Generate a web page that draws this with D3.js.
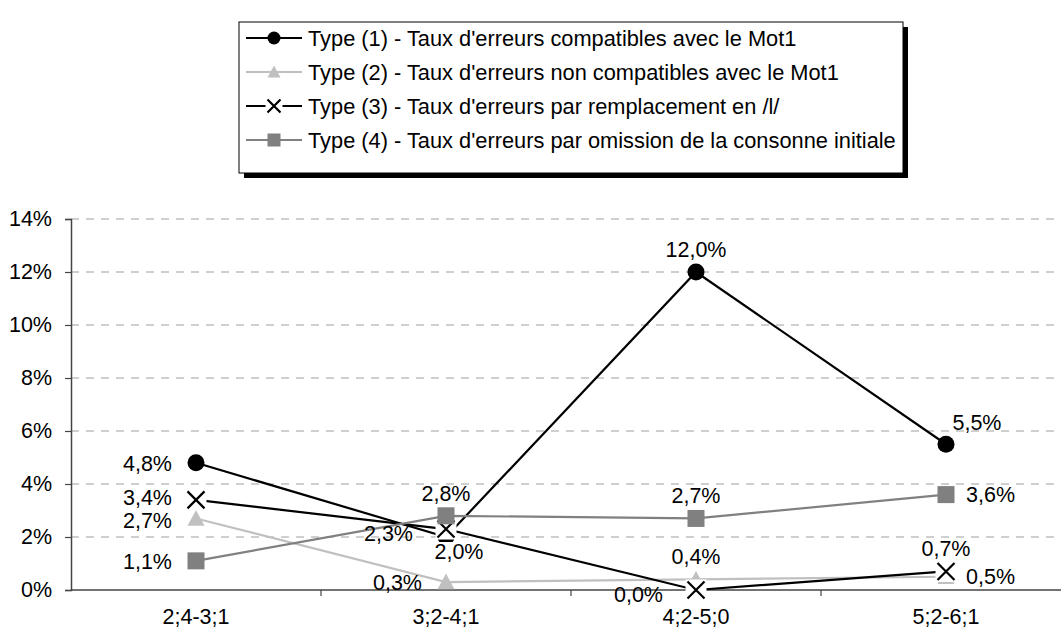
<!DOCTYPE html>
<html>
<head>
<meta charset="utf-8">
<script src="https://cdn.jsdelivr.net/npm/d3@7"></script>
<style>
  html, body { margin: 0; padding: 0; background: #fff; }
  svg { display: block; font-family: "Liberation Sans", Arial, sans-serif; }
</style>
</head>
<body>
<svg id="chart" width="1061" height="633"></svg>
<script>
// ---- data ----
const categories = ["2;4-3;1", "3;2-4;1", "4;2-5;0", "5;2-6;1"];
const seriesNames = [
  "Type (1) - Taux d'erreurs compatibles avec le Mot1",
  "Type (2) - Taux d'erreurs non compatibles avec le Mot1",
  "Type (3) - Taux d'erreurs par remplacement en /l/",
  "Type (4) - Taux d'erreurs par omission de la consonne initiale"
];
const type1Values = [4.8, 2.0, 12.0, 5.5];
const type2Values = [2.7, 0.3, 0.4, 0.5];
const type3Values = [3.4, 2.3, 0.0, 0.7];
const type4Values = [1.1, 2.8, 2.7, 3.6];
const yTickValues = [0, 2, 4, 6, 8, 10, 12, 14];

// label placement (named positions, not coordinates)
const type1Labels = ["left", "below", "above", "aboveRight"];
const type2Labels = ["leftDown", "left", "above", "right"];
const type3Labels = ["leftUp", "leftFar", "leftFar", "above"];
const type4Labels = ["left", "above", "above", "right"];

// ---- styling ----
const styles = [
  { color: "#000000", marker: "circle" },
  { color: "#c0c0c0", marker: "triangle" },
  { color: "#000000", marker: "cross" },
  { color: "#808080", marker: "square" }
];
const series = [
  { name: seriesNames[0], values: type1Values, labels: type1Labels, ...styles[0] },
  { name: seriesNames[1], values: type2Values, labels: type2Labels, ...styles[1] },
  { name: seriesNames[2], values: type3Values, labels: type3Labels, ...styles[2] },
  { name: seriesNames[3], values: type4Values, labels: type4Labels, ...styles[3] }
];

const FONT = 21.5;
const LEGEND_FONT = 21.8;
const svg = d3.select("#chart");

const plot = { left: 71, right: 1071, top: 219, bottom: 590 };
const x = d3.scaleBand().domain(categories).range([plot.left, plot.right]).padding(0);
const y = d3.scaleLinear().domain([0, 14]).range([plot.bottom, plot.top]);
const cx = c => x(c) + x.bandwidth() / 2;

// gridlines
svg.append("g").selectAll("line").data(yTickValues.filter(v => v > 0)).join("line")
  .attr("x1", plot.left).attr("x2", plot.right)
  .attr("y1", d => y(d)).attr("y2", d => y(d))
  .attr("stroke", "#a0a0a0").attr("stroke-width", 1.2)
  .attr("stroke-dasharray", "8,7");

// y axis
const yAxis = d3.axisLeft(y).tickValues(yTickValues).tickSize(6).tickPadding(13)
  .tickFormat(d => d + "%");
const gy = svg.append("g").attr("transform", `translate(${plot.left},0)`).call(yAxis);
gy.select(".domain").attr("stroke", "#444").attr("stroke-width", 1.5);
gy.selectAll(".tick line").attr("stroke", "#444").attr("stroke-width", 1.2);
gy.selectAll(".tick text").attr("font-size", FONT).attr("fill", "#000")
  .attr("font-family", "Liberation Sans, Arial, sans-serif");

// x axis: ticks at category boundaries
const gx = svg.append("g").attr("transform", `translate(0,${plot.bottom})`);
gx.append("line").attr("x1", plot.left).attr("x2", plot.right)
  .attr("stroke", "#444").attr("stroke-width", 1.5);
gx.selectAll("line.tk").data(categories.slice(1)).join("line").attr("class", "tk")
  .attr("x1", d => x(d)).attr("x2", d => x(d)).attr("y1", 0).attr("y2", 6)
  .attr("stroke", "#444").attr("stroke-width", 1.2);
gx.selectAll("text").data(categories).join("text")
  .attr("x", d => cx(d)).attr("y", 34)
  .attr("text-anchor", "middle").attr("font-size", FONT).attr("fill", "#000")
  .text(d => d);

// marker drawing
function drawMarker(g, type, color, size) {
  const h = size / 2;
  if (type === "circle") {
    g.append("circle").attr("r", h).attr("fill", color);
  } else if (type === "triangle") {
    g.append("path").attr("d", `M0,${-h}L${h},${h * 0.85}L${-h},${h * 0.85}Z`).attr("fill", color);
  } else if (type === "square") {
    g.append("rect").attr("x", -h).attr("y", -h).attr("width", size).attr("height", size).attr("fill", color);
  } else if (type === "cross") {
    g.append("rect").attr("x", -h - 2).attr("y", -h - 2).attr("width", size + 4).attr("height", size + 4).attr("fill", "#fff");
    g.append("path").attr("d", `M${-h},${-h}L${h},${h}M${h},${-h}L${-h},${h}`)
      .attr("stroke", color).attr("stroke-width", 2.2).attr("fill", "none");
  }
}

const line = d3.line().x((d, i) => cx(categories[i])).y(d => y(d));
const markerSize = { circle: 17, triangle: 17, square: 17, cross: 17 };

series.forEach(s => {
  const g = svg.append("g");
  g.append("path").datum(s.values).attr("d", line)
    .attr("fill", "none").attr("stroke", s.color).attr("stroke-width", 2.2);
  s.values.forEach((v, i) => {
    const mg = g.append("g").attr("transform", `translate(${cx(categories[i])},${y(v)})`);
    drawMarker(mg, s.marker, s.color, markerSize[s.marker]);
  });
});

// data labels
const fmt = v => v.toFixed(1).replace(".", ",") + "%";
const labelLayer = svg.append("g");
series.forEach(s => {
  s.values.forEach((v, i) => {
    const px = cx(categories[i]), py = y(v);
    const pos = s.labels[i];
    let tx = px, ty = py, anchor = "middle";
    if (pos === "left") { tx = px - 24; anchor = "end"; }
    else if (pos === "leftUp") { tx = px - 24; ty = py - 3; anchor = "end"; }
    else if (pos === "leftDown") { tx = px - 24; ty = py + 2; anchor = "end"; }
    else if (pos === "leftFar") { tx = px - 33; ty = py + 4; anchor = "end"; }
    else if (pos === "right") { tx = px + 20; anchor = "start"; }
    else if (pos === "above") { ty = py - 23; }
    else if (pos === "below") { ty = py + 14; tx = px + 13; }
    else if (pos === "aboveRight") { tx = px + 31; ty = py - 22; }
    const t = labelLayer.append("text")
      .attr("x", tx).attr("y", ty + FONT * 0.36)
      .attr("text-anchor", anchor).attr("font-size", FONT).attr("fill", "#000")
      .text(fmt(v));
    if (pos === "below") {
      const bb = t.node().getBBox();
      labelLayer.insert("rect", () => t.node())
        .attr("x", bb.x).attr("y", ty - 9).attr("width", bb.width).attr("height", 18)
        .attr("fill", "#fff");
    }
  });
});

// legend
const legend = { x: 239, y: 22, w: 664, h: 151, rowStart: 38, rowStep: 34 };
const lg = svg.append("g");
lg.append("rect").attr("x", legend.x + 5).attr("y", legend.y + 5)
  .attr("width", legend.w).attr("height", legend.h).attr("fill", "#000");
lg.append("rect").attr("x", legend.x).attr("y", legend.y)
  .attr("width", legend.w).attr("height", legend.h)
  .attr("fill", "#fff").attr("stroke", "#000").attr("stroke-width", 1);
series.forEach((s, i) => {
  const ry = legend.rowStart + i * legend.rowStep;
  const row = lg.append("g");
  row.append("line").attr("x1", 246).attr("x2", 302).attr("y1", ry).attr("y2", ry)
    .attr("stroke", s.color).attr("stroke-width", 2.2);
  const mg = row.append("g").attr("transform", `translate(274,${ry})`);
  drawMarker(mg, s.marker, s.color, 13);
  row.append("text").attr("x", 308).attr("y", ry + LEGEND_FONT * 0.36)
    .attr("font-size", LEGEND_FONT).attr("fill", "#000").text(s.name);
});
</script>
</body>
</html>
